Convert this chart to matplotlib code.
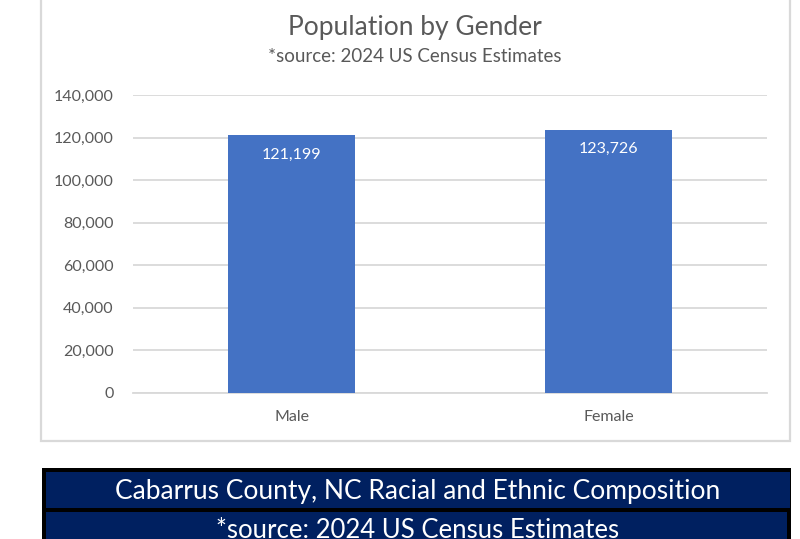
import matplotlib.pyplot as plt
from matplotlib.patches import Rectangle
from matplotlib.ticker import FuncFormatter

plt.rcParams['font.family'] = ['Lato', 'DejaVu Sans']

# data
genders = ["Male", "Female"]
population = [121199, 123726]
yticks = [0, 20000, 40000, 60000, 80000, 100000, 120000, 140000]

title = "Population by Gender"
subtitle = "*source: 2024 US Census Estimates"
table_title = "Cabarrus County, NC Racial and Ethnic Composition"
table_sub = "*source: 2024 US Census Estimates"

bar_color = "#4472C4"
grid_color = "#d9d9d9"
text_gray = "#595959"
navy = "#002060"

W, H = 800, 539
fig = plt.figure(figsize=(W / 100, H / 100), dpi=100)


def fx(px):
    return px / W


def fy(py):
    return 1 - py / H


# chart frame
fig.patches.append(Rectangle((fx(41), fy(441)), fx(790) - fx(41), fy(-10) - fy(441),
                             transform=fig.transFigure, facecolor="white",
                             edgecolor=grid_color, linewidth=1.6, zorder=0))

ax = fig.add_axes([fx(133), fy(393), fx(767) - fx(133), fy(95) - fy(393)])
ax.set_zorder(5)
x = range(len(genders))
bars = ax.bar(x, population, width=0.4, color=bar_color, zorder=3)
ax.set_xlim(-0.5, 1.5)
ax.set_ylim(0, 140000)
ax.set_yticks(yticks)
ax.yaxis.set_major_formatter(FuncFormatter(lambda v, p: f"{int(v):,}"))
ax.set_xticks(list(x))
ax.set_xticklabels(genders)
ax.grid(axis="y", color=grid_color, linewidth=1.3, zorder=0)
ax.set_axisbelow(True)
for s in ax.spines.values():
    s.set_visible(False)
ax.spines["bottom"].set_visible(True)
ax.spines["bottom"].set_color(grid_color)
ax.spines["bottom"].set_linewidth(1.3)
ax.tick_params(axis="y", length=0, pad=14, labelsize=11.5, labelcolor=text_gray)
ax.tick_params(axis="x", length=0, pad=12, labelsize=11.5, labelcolor=text_gray)
ax.set_facecolor("none")

for b, v in zip(bars, population):
    ax.annotate(f"{v:,}", (b.get_x() + b.get_width() / 2, v), xytext=(0, -14),
                textcoords="offset points", ha="center", va="center",
                color="white", fontsize=11.5, zorder=4)

fig.text(fx(415), fy(28), title, ha="center", va="center", fontsize=19, color=text_gray)
fig.text(fx(415), fy(57), subtitle, ha="center", va="center", fontsize=13.5, color=text_gray)

# table header below the chart
fig.patches.append(Rectangle((fx(42), fy(545)), fx(791) - fx(42), fy(468) - fy(545),
                             transform=fig.transFigure, facecolor="black",
                             edgecolor="none", zorder=1))
fig.patches.append(Rectangle((fx(46), fy(508)), fx(790) - fx(46), fy(472) - fy(508),
                             transform=fig.transFigure, facecolor=navy,
                             edgecolor="none", zorder=2))
fig.patches.append(Rectangle((fx(46), fy(545)), fx(787) - fx(46), fy(512) - fy(545),
                             transform=fig.transFigure, facecolor=navy,
                             edgecolor="none", zorder=2))
fig.text(fx(418), fy(491), table_title, ha="center", va="center", fontsize=19,
         color="white", zorder=3)
fig.text(fx(418), fy(531), table_sub, ha="center", va="center", fontsize=18.5,
         color="white", zorder=3)

fig.savefig("out.png", dpi=100)
